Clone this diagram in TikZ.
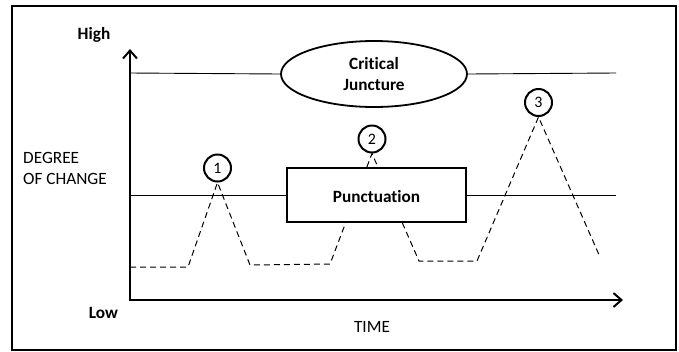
\documentclass[tikz,border=0pt]{standalone}
\usepackage{fontspec}
\setmainfont{Carlito}[Ligatures=NoCommon]
\usetikzlibrary{arrows.meta,shapes.geometric}
\begin{document}
\begin{tikzpicture}[x=1bp,y=-1bp,
  every node/.style={font=\fontsize{17.3}{21}\selectfont},
  thinline/.style={line width=0.9bp},
  axisline/.style={line width=2bp},
  dashline/.style={line width=1bp, dash pattern=on 6bp off 4bp},
  numcirc/.style={circle, draw, fill=white, line width=2bp, minimum size=27bp, inner sep=0pt, font=\fontsize{16}{18}\selectfont},
  lbl/.style={font=\fontsize{17.3}{22}\selectfont\bfseries}]
\useasboundingbox (0,0) rectangle (679,351);
\draw[line width=2bp] (12,6) rectangle (676,350);
% axes
\coordinate (ytop) at (130,49);
\coordinate (orig) at (130,300);
\coordinate (xend) at (623,300);
\draw[axisline, {Straight Barb[length=8bp,width=14bp]}-{Straight Barb[length=8bp,width=14bp]}] (ytop) -- (orig) -- (xend);
% labels
\node[lbl, anchor=base, inner sep=0pt] (high) at (94,39) {High};
\node[lbl, anchor=base, inner sep=0pt] (low) at (103.5,318) {Low};
\node[anchor=base west, inner sep=0pt] (deg) at (23,163) {DEGREE};
\node[anchor=base west, inner sep=0pt] (ofc) at (23,184) {OF CHANGE};
\node[anchor=base, inner sep=0pt] (time) at (372,332) {TIME};
% critical juncture
\node[ellipse, draw, line width=1.8bp, minimum width=186bp, minimum height=66bp, inner sep=0pt, align=center, lbl] (cj) at (374,74) {Critical\\Juncture};
\coordinate (cjL) at (130,73);
\coordinate (cjR) at (616,73);
\draw[thinline] (cjL) -- (cj.west);
\draw[thinline] (cj.east) -- (cjR);
% circles
\node[numcirc] (c1) at (217.5,168) {1};
\node[numcirc] (c2) at (372,139) {2};
\node[numcirc] (c3) at (538.5,102.5) {3};
% dashed trajectory
\coordinate (d0) at (130,267);
\coordinate (d1) at (188,267);
\coordinate (d2) at (250,265);
\coordinate (d3) at (330,264);
\coordinate (d4) at (419,261);
\coordinate (d5) at (477,261);
\coordinate (d6) at (600,257);
\draw[dashline] (d0) -- (d1) -- (c1.south) -- (d2) -- (d3) -- (c2.south) -- (d4) -- (d5) -- (c3.south) -- (d6);
% punctuation
\coordinate (pL) at (130,195);
\coordinate (pR) at (616,195);
\node[rectangle, draw, fill=white, line width=2bp, minimum width=179bp, minimum height=54bp, inner sep=0pt, text height=14bp, text depth=0pt, lbl] (pun) at (376.5,195) {Punctuation};
\draw[thinline] (pL) -- (pun.west);
\draw[thinline] (pun.east) -- (pR);
\end{tikzpicture}
\end{document}
